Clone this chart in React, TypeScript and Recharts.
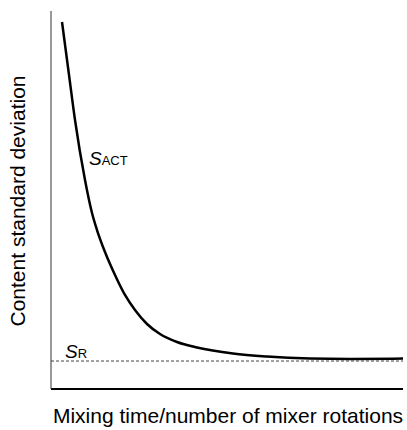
import React from 'react';
import { LineChart, Line, XAxis, YAxis, ReferenceLine, ReferenceDot } from 'recharts';

const mixing = [3.13, 4.97, 6.82, 9.66, 11.65, 13.07, 15.34, 18.18, 21.02, 23.86, 27.27, 30.97, 35.8, 41.48, 51.7, 61.36, 73.58, 84.94, 100];
const sAct = [97.09, 84.13, 71.16, 55.29, 46.56, 42.06, 36.24, 30.16, 24.87, 20.9, 17.2, 14.55, 12.43, 10.98, 9.39, 8.6, 8.07, 7.94, 8.07];
const sR = 7.4;
const xTitle = 'Mixing time/number of mixer rotations';
const yTitle = 'Content standard deviation';
const actLabel = { x: 10.8, y: 59.3, main: 'S', sub: 'ACT' };
const rLabel = { x: 4.0, y: 8.2, main: 'S', sub: 'R' };

const data = mixing.map((m, i) => ({ m, s: sAct[i] }));

const FONT = '"Liberation Sans", Arial, Helvetica, sans-serif';

const subLabel = (main: string, sub: string) => (p: any) => (
  <text x={p.cx} y={p.cy} fontFamily={FONT} fill="#000">
    <tspan fontSize={19} fontStyle="italic">{main}</tspan>
    <tspan fontSize={13}>{sub}</tspan>
  </text>
);

export default function App() {
  return (
    <div style={{ position: 'absolute', left: 0, top: 0, background: '#fff' }}>
      <LineChart width={407} height={430} data={data} margin={{ top: 11, right: 4, bottom: 40, left: 50 }}>
        <XAxis
          dataKey="m"
          type="number"
          domain={[0, 100]}
          tick={false}
          tickLine={false}
          height={1}
          axisLine={{ stroke: '#000', strokeWidth: 2 }}
          label={{
            content: (p: any) => {
              const vb = p.viewBox;
              return (
                <text x={vb.x + vb.width / 2 + 1} y={vb.y + 34} textAnchor="middle" fontSize={21} fontFamily={FONT} fill="#000">
                  {xTitle}
                </text>
              );
            },
          }}
        />
        <YAxis
          type="number"
          domain={[0, 100]}
          tick={false}
          tickLine={false}
          width={1}
          axisLine={{ stroke: '#333', strokeWidth: 1 }}
          label={{
            content: (p: any) => {
              const vb = p.viewBox;
              const x = vb.x + vb.width - 26;
              const y = vb.y + vb.height / 2 + 1;
              return (
                <text x={x} y={y} transform={`rotate(-90, ${x}, ${y})`} textAnchor="middle" fontSize={21} fontFamily={FONT} fill="#000">
                  {yTitle}
                </text>
              );
            },
          }}
        />
        <ReferenceLine y={sR} stroke="#444" strokeWidth={1} strokeDasharray="3 2" />
        <Line dataKey="s" type="monotone" stroke="#000" strokeWidth={2.5} dot={false} isAnimationActive={false} />
        <ReferenceDot x={actLabel.x} y={actLabel.y} r={0} shape={subLabel(actLabel.main, actLabel.sub)} />
        <ReferenceDot x={rLabel.x} y={rLabel.y} r={0} shape={subLabel(rLabel.main, rLabel.sub)} />
      </LineChart>
    </div>
  );
}
